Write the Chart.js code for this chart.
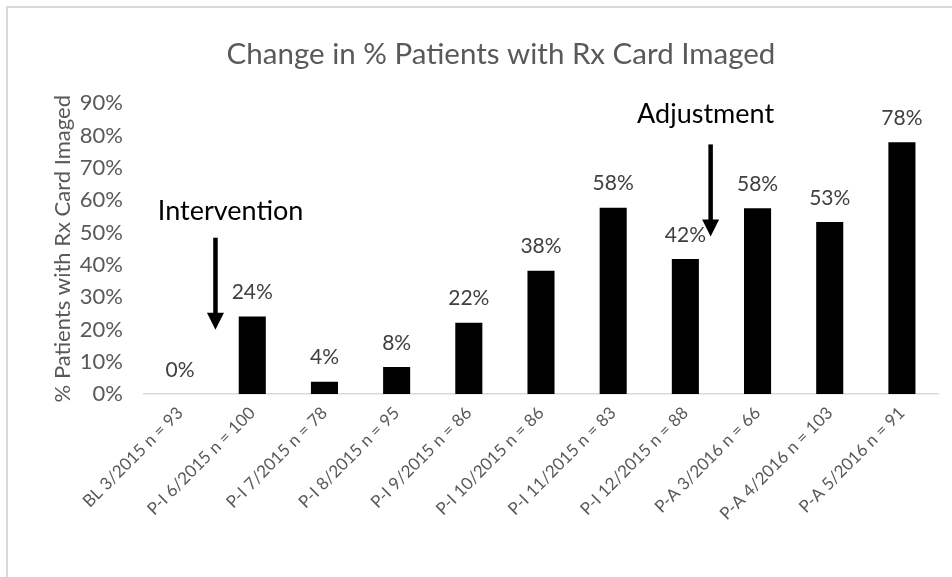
<!DOCTYPE html>
<html>
<head>
<meta charset="utf-8">
<script src="https://cdn.jsdelivr.net/npm/chart.js@4/dist/chart.umd.min.js"></script>
<style>
  html, body { margin: 0; padding: 0; background: #fff; }
  #wrap { position: relative; width: 952px; height: 577px; }
  #frame { position: absolute; left: 6px; top: 6px; width: 960px; height: 600px;
           border-left: 2px solid #d9d9d9; border-top: 2px solid #d9d9d9; pointer-events: none; }
</style>
</head>
<body>
<div id="wrap">
  <canvas id="grafico" width="952" height="577"></canvas>
  <div id="frame"></div>
</div>
<script>
// --- dados ---
const categorias = [
    'BL 3/2015 n = 93', 'P-I 6/2015 n = 100', 'P-I 7/2015 n = 78', 'P-I 8/2015 n = 95',
    'P-I 9/2015 n = 86', 'P-I 10/2015 n = 86', 'P-I 11/2015 n = 83', 'P-I 12/2015 n = 88',
    'P-A 3/2016 n = 66', 'P-A 4/2016 n = 103', 'P-A 5/2016 n = 91'
];
const percentuais = [0, 24.0, 3.8, 8.4, 22.1, 38.2, 57.7, 41.8, 57.5, 53.3, 78.0];

// marcos (eixo x em índice de categoria, eixo y em %)
const marcosTexto  = ['Intervention', 'Adjustment'];
const marcosTextoX = [0.70, 7.28];
const marcosTextoY = [56.5, 86.6];
const marcosSetaX  = [0.49, 7.35];
const marcosSetaDe = [48.4, 77.3];
const marcosSetaAte = [19.9, 48.8];

const FONTE = 'Lato, "Open Sans", sans-serif';

// Rótulos de valor acima das barras
const rotulosValor = {
    id: 'rotulosValor',
    afterDatasetsDraw(chart) {
        const { ctx } = chart;
        const meta = chart.getDatasetMeta(0);
        ctx.save();
        ctx.font = '21px ' + FONTE;
        ctx.fillStyle = '#404040';
        ctx.textAlign = 'center';
        ctx.textBaseline = 'middle';
        meta.data.forEach((bar, i) => {
            ctx.fillText(Math.round(percentuais[i]) + '%', bar.x, bar.y - 24);
        });
        ctx.restore();
    }
};

// Textos e setas de marcos
const marcos = {
    id: 'marcos',
    afterDatasetsDraw(chart) {
        const { ctx, scales: { x, y } } = chart;
        ctx.save();
        marcosTexto.forEach((txt, i) => {
            ctx.font = '27px ' + FONTE;
            ctx.fillStyle = '#000';
            ctx.textAlign = 'center';
            ctx.textBaseline = 'middle';
            ctx.fillText(txt, x.getPixelForValue(marcosTextoX[i]), y.getPixelForValue(marcosTextoY[i]));

            const sx = x.getPixelForValue(marcosSetaX[i]);
            const y0 = y.getPixelForValue(marcosSetaDe[i]);
            const y1 = y.getPixelForValue(marcosSetaAte[i]);
            ctx.strokeStyle = '#000';
            ctx.lineWidth = 4.5;
            ctx.beginPath();
            ctx.moveTo(sx, y0);
            ctx.lineTo(sx, y1 - 14);
            ctx.stroke();
            ctx.beginPath();
            ctx.moveTo(sx - 8.5, y1 - 17);
            ctx.lineTo(sx + 8.5, y1 - 17);
            ctx.lineTo(sx, y1);
            ctx.closePath();
            ctx.fill();
        });
        ctx.restore();
    }
};

new Chart(document.getElementById('grafico'), {
    type: 'bar',
    data: {
        labels: categorias,
        datasets: [{
            label: '% Patients with Rx Card Imaged',
            data: percentuais,
            backgroundColor: '#000',
            categoryPercentage: 1,
            barPercentage: 0.375
        }]
    },
    options: {
        responsive: false,
        animation: false,
        layout: { padding: { left: 64, right: 14, top: 0, bottom: 0 } },
        plugins: {
            legend: { display: false },
            tooltip: { enabled: false },
            title: {
                display: true,
                text: 'Change in % Patients with Rx Card Imaged',
                color: '#595959',
                font: { family: FONTE, size: 29.5, weight: '400' },
                padding: { top: 37, bottom: 31 }
            }
        },
        scales: {
            x: {
                grid: { display: false, drawTicks: false },
                border: { color: '#d9d9d9', width: 1.5 },
                ticks: {
                    color: '#595959',
                    font: { family: FONTE, size: 17 },
                    minRotation: 45,
                    maxRotation: 45,
                    padding: 9
                },
                afterFit(scale) { scale.height = 183; }
            },
            y: {
                min: 0,
                max: 90,
                grid: { display: false, drawTicks: false },
                border: { display: false },
                ticks: {
                    stepSize: 10,
                    color: '#595959',
                    font: { family: FONTE, size: 22 },
                    padding: 21,
                    callback: (v) => v + '%'
                },
                title: {
                    display: true,
                    text: '% Patients with Rx Card Imaged',
                    color: '#595959',
                    font: { family: FONTE, size: 22 },
                    padding: { top: -14, bottom: 0 }
                },
                afterFit(scale) { scale.width = 80; }
            }
        }
    },
    plugins: [rotulosValor, marcos]
});
</script>
</body>
</html>
